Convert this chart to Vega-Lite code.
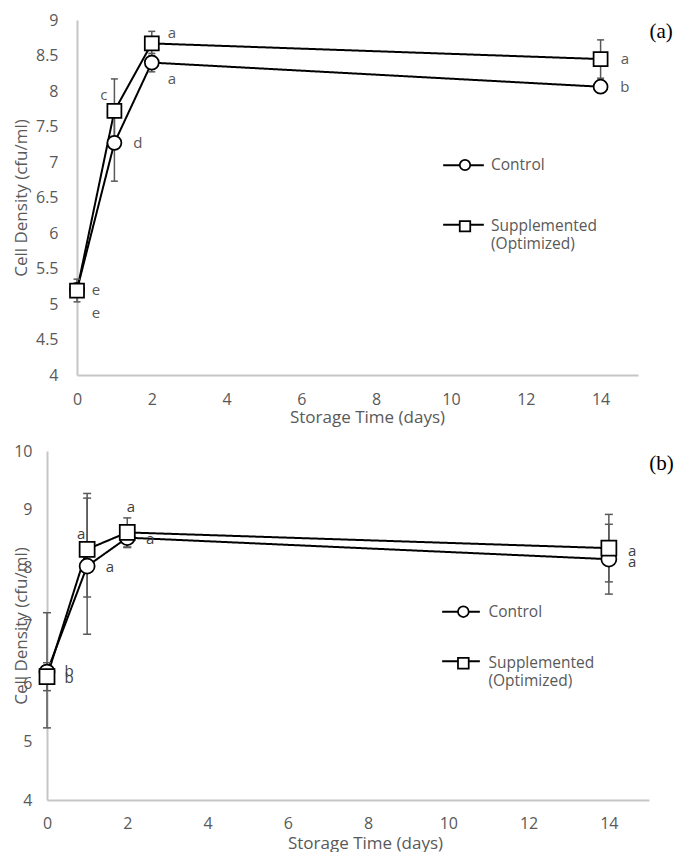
{
  "$schema": "https://vega.github.io/schema/vega-lite/v6.json",
  "padding": {"left": 12, "top": 12, "right": 0, "bottom": 0},
  "spacing": 18,
  "resolve": {"scale": {"shape": "independent", "strokeDash": "independent"}, "legend": {"shape": "independent", "strokeDash": "independent"}},
  "config": {
    "view": {"stroke": null},
    "font": "Open Sans",
    "axis": {
      "domainColor": "#c6c6c6",
      "domainWidth": 2,
      "ticks": false,
      "tickSize": 0,
      "grid": false,
      "labelColor": "#595959",
      "labelFont": "Open Sans",
      "labelFontSize": 16,
      "labelFlush": false,
      "labelOverlap": false,
      "titleColor": "#595959",
      "titleFont": "Open Sans",
      "titleFontSize": 17,
      "titleFontWeight": "normal"
    },
    "legend": {"labelFont": "Open Sans", "labelFontSize": 15.5, "labelColor": "#595959", "labelLimit": 300, "padding": 0, "orient": "none", "direction": "vertical"}
  },
  "datasets": {
    "a_pts": [
      {"series": "Control", "day": 0, "value": 5.2, "lo": 5.15, "hi": 5.25},
      {"series": "Control", "day": 1, "value": 7.27, "lo": 6.73, "hi": 7.81},
      {"series": "Control", "day": 2, "value": 8.4, "lo": 8.27, "hi": 8.53},
      {"series": "Control", "day": 14, "value": 8.06, "lo": 8.0, "hi": 8.12},
      {"series": "Supplemented (Optimized)", "day": 0, "value": 5.19, "lo": 5.03, "hi": 5.35},
      {"series": "Supplemented (Optimized)", "day": 1, "value": 7.72, "lo": 7.27, "hi": 8.17},
      {"series": "Supplemented (Optimized)", "day": 2, "value": 8.67, "lo": 8.5, "hi": 8.84},
      {"series": "Supplemented (Optimized)", "day": 14, "value": 8.45, "lo": 8.18, "hi": 8.72}
    ],
    "a_lbl": [
      {"day": 0.51, "value": 5.2, "letter": "e"},
      {"day": 0.51, "value": 4.87, "letter": "e"},
      {"day": 0.72, "value": 7.94, "letter": "c"},
      {"day": 1.63, "value": 7.27, "letter": "d"},
      {"day": 2.54, "value": 8.82, "letter": "a"},
      {"day": 2.54, "value": 8.17, "letter": "a"},
      {"day": 14.65, "value": 8.45, "letter": "a"},
      {"day": 14.65, "value": 8.06, "letter": "b"}
    ],
    "b_pts": [
      {"series": "Control", "day": 0, "value": 6.2, "lo": 5.24, "hi": 7.22},
      {"series": "Control", "day": 1, "value": 8.02, "lo": 6.85, "hi": 9.19},
      {"series": "Control", "day": 2, "value": 8.51, "lo": 8.34, "hi": 8.68},
      {"series": "Control", "day": 14, "value": 8.14, "lo": 7.54, "hi": 8.74},
      {"series": "Supplemented (Optimized)", "day": 0, "value": 6.12, "lo": 5.88, "hi": 6.36},
      {"series": "Supplemented (Optimized)", "day": 1, "value": 8.31, "lo": 7.49, "hi": 9.27},
      {"series": "Supplemented (Optimized)", "day": 2, "value": 8.6, "lo": 8.35, "hi": 8.85},
      {"series": "Supplemented (Optimized)", "day": 14, "value": 8.33, "lo": 7.75, "hi": 8.91}
    ],
    "b_lbl": [
      {"day": 0.55, "value": 6.22, "letter": "b"},
      {"day": 0.55, "value": 6.1, "letter": "b"},
      {"day": 0.85, "value": 8.58, "letter": "a"},
      {"day": 1.57, "value": 8.01, "letter": "a"},
      {"day": 2.09, "value": 9.04, "letter": "a"},
      {"day": 2.57, "value": 8.49, "letter": "a"},
      {"day": 14.58, "value": 8.28, "letter": "a"},
      {"day": 14.58, "value": 8.09, "letter": "a"}
    ]
  },
  "vconcat": [
    {
      "width": 591,
      "height": 355,
      "layer": [
        {"data": {"name": "a_pts"}, "mark": {"type": "line", "color": "black", "strokeWidth": 2},
          "encoding": {
            "x": {"field": "day", "type": "quantitative", "scale": {"domain": [0, 15], "nice": false, "range": [30, 591]},
              "axis": {"values": [0, 2, 4, 6, 8, 10, 12, 14], "title": "Storage Time (days)", "labelBaseline": "middle", "labelPadding": 24, "titleX": 320, "titleY": 42, "titleBaseline": "middle"}},
            "y": {"field": "value", "type": "quantitative", "scale": {"domain": [4, 9], "nice": false, "zero": false},
              "axis": {"values": [4, 4.5, 5, 5.5, 6, 6.5, 7, 7.5, 8, 8.5, 9], "format": "~r", "title": "Cell Density (cfu/ml)", "offset": -30, "labelPadding": 19, "titleX": -55.5, "titleY": 177.5, "titleBaseline": "middle"}},
            "strokeDash": {"field": "series", "type": "nominal", "scale": {"range": [[1, 0], [1, 0]]},
              "legend": {"legendX": 395, "legendY": 123.65, "title": null, "symbolSize": 1656, "symbolStrokeWidth": 2, "symbolStrokeColor": "black", "symbolOpacity": 1,
                "rowPadding": 29.65, "labelOffset": 3.3, "labelOpacity": 0,
                "labelExpr": "datum.label == 'Supplemented (Optimized)' ? ['Supplemented', '(Optimized)'] : datum.label"}}}},
        {"data": {"name": "a_pts"}, "mark": {"type": "rule", "color": "#595959", "strokeWidth": 1.5},
          "encoding": {
            "x": {"field": "day", "type": "quantitative", "scale": {"domain": [0, 15], "nice": false, "range": [30, 591]},
              "axis": {"values": [0, 2, 4, 6, 8, 10, 12, 14], "title": "Storage Time (days)", "labelBaseline": "middle", "labelPadding": 24, "titleX": 320, "titleY": 42, "titleBaseline": "middle"}},
            "y": {"field": "lo", "type": "quantitative", "scale": {"domain": [4, 9], "nice": false, "zero": false},
              "axis": {"values": [4, 4.5, 5, 5.5, 6, 6.5, 7, 7.5, 8, 8.5, 9], "format": "~r", "title": "Cell Density (cfu/ml)", "offset": -30, "labelPadding": 19, "titleX": -55.5, "titleY": 177.5, "titleBaseline": "middle"}},
            "y2": {"field": "hi"}}},
        {"data": {"name": "a_pts"}, "mark": {"type": "tick", "orient": "horizontal", "size": 7, "thickness": 1.5, "color": "#595959", "opacity": 1},
          "encoding": {
            "x": {"field": "day", "type": "quantitative", "scale": {"domain": [0, 15], "nice": false, "range": [30, 591]},
              "axis": {"values": [0, 2, 4, 6, 8, 10, 12, 14], "title": "Storage Time (days)", "labelBaseline": "middle", "labelPadding": 24, "titleX": 320, "titleY": 42, "titleBaseline": "middle"}},
            "y": {"field": "lo", "type": "quantitative", "scale": {"domain": [4, 9], "nice": false, "zero": false},
              "axis": {"values": [4, 4.5, 5, 5.5, 6, 6.5, 7, 7.5, 8, 8.5, 9], "format": "~r", "title": "Cell Density (cfu/ml)", "offset": -30, "labelPadding": 19, "titleX": -55.5, "titleY": 177.5, "titleBaseline": "middle"}}}},
        {"data": {"name": "a_pts"}, "mark": {"type": "tick", "orient": "horizontal", "size": 7, "thickness": 1.5, "color": "#595959", "opacity": 1},
          "encoding": {
            "x": {"field": "day", "type": "quantitative", "scale": {"domain": [0, 15], "nice": false, "range": [30, 591]},
              "axis": {"values": [0, 2, 4, 6, 8, 10, 12, 14], "title": "Storage Time (days)", "labelBaseline": "middle", "labelPadding": 24, "titleX": 320, "titleY": 42, "titleBaseline": "middle"}},
            "y": {"field": "hi", "type": "quantitative", "scale": {"domain": [4, 9], "nice": false, "zero": false},
              "axis": {"values": [4, 4.5, 5, 5.5, 6, 6.5, 7, 7.5, 8, 8.5, 9], "format": "~r", "title": "Cell Density (cfu/ml)", "offset": -30, "labelPadding": 19, "titleX": -55.5, "titleY": 177.5, "titleBaseline": "middle"}}}},
        {"data": {"name": "a_pts"}, "mark": {"type": "point", "filled": true, "fill": "white", "stroke": "black", "strokeWidth": 1.75, "size": 196, "opacity": 1},
          "encoding": {
            "x": {"field": "day", "type": "quantitative", "scale": {"domain": [0, 15], "nice": false, "range": [30, 591]},
              "axis": {"values": [0, 2, 4, 6, 8, 10, 12, 14], "title": "Storage Time (days)", "labelBaseline": "middle", "labelPadding": 24, "titleX": 320, "titleY": 42, "titleBaseline": "middle"}},
            "y": {"field": "value", "type": "quantitative", "scale": {"domain": [4, 9], "nice": false, "zero": false},
              "axis": {"values": [4, 4.5, 5, 5.5, 6, 6.5, 7, 7.5, 8, 8.5, 9], "format": "~r", "title": "Cell Density (cfu/ml)", "offset": -30, "labelPadding": 19, "titleX": -55.5, "titleY": 177.5, "titleBaseline": "middle"}},
            "shape": {"field": "series", "type": "nominal", "scale": {"domain": ["Control", "Supplemented (Optimized)"], "range": ["circle", "square"]},
              "legend": {"legendX": 410.25, "legendY": 137.25, "title": null, "symbolSize": 110, "symbolOpacity": 1, "symbolStrokeWidth": 1.75,
                "rowPadding": 43.25, "labelOffset": 18.25,
                "labelExpr": "datum.label == 'Supplemented (Optimized)' ? ['Supplemented', '(Optimized)'] : datum.label"}}}},
        {"data": {"name": "a_lbl"}, "mark": {"type": "text", "font": "Open Sans", "fontSize": 15, "color": "#595959", "align": "center", "baseline": "middle"},
          "encoding": {
            "x": {"field": "day", "type": "quantitative", "scale": {"domain": [0, 15], "nice": false, "range": [30, 591]},
              "axis": {"values": [0, 2, 4, 6, 8, 10, 12, 14], "title": "Storage Time (days)", "labelBaseline": "middle", "labelPadding": 24, "titleX": 320, "titleY": 42, "titleBaseline": "middle"}},
            "y": {"field": "value", "type": "quantitative", "scale": {"domain": [4, 9], "nice": false, "zero": false},
              "axis": {"values": [4, 4.5, 5, 5.5, 6, 6.5, 7, 7.5, 8, 8.5, 9], "format": "~r", "title": "Cell Density (cfu/ml)", "offset": -30, "labelPadding": 19, "titleX": -55.5, "titleY": 177.5, "titleBaseline": "middle"}},
            "text": {"field": "letter"}}},
        {"data": {"values": [{"panel": "(a)"}]}, "mark": {"type": "text", "font": "Liberation Serif", "fontSize": 21, "color": "black", "align": "center", "baseline": "middle"},
          "encoding": {
            "x": {"datum": 15.62, "type": "quantitative", "scale": {"domain": [0, 15], "nice": false, "range": [30, 591]},
              "axis": {"values": [0, 2, 4, 6, 8, 10, 12, 14], "title": "Storage Time (days)", "labelBaseline": "middle", "labelPadding": 24, "titleX": 320, "titleY": 42, "titleBaseline": "middle"}},
            "y": {"datum": 8.83, "type": "quantitative", "scale": {"domain": [4, 9], "nice": false, "zero": false},
              "axis": {"values": [4, 4.5, 5, 5.5, 6, 6.5, 7, 7.5, 8, 8.5, 9], "format": "~r", "title": "Cell Density (cfu/ml)", "offset": -30, "labelPadding": 19, "titleX": -55.5, "titleY": 177.5, "titleBaseline": "middle"}},
            "text": {"field": "panel"}}}
      ]
    },
    {
      "width": 602,
      "height": 349,
      "layer": [
        {"data": {"name": "b_pts"}, "mark": {"type": "line", "color": "black", "strokeWidth": 2},
          "encoding": {
            "x": {"field": "day", "type": "quantitative", "scale": {"domain": [0, 15], "nice": false},
              "axis": {"values": [0, 2, 4, 6, 8, 10, 12, 14], "title": "Storage Time (days)", "labelBaseline": "middle", "labelPadding": 23.5, "titleX": 318, "titleY": 43.5, "titleBaseline": "middle"}},
            "y": {"field": "value", "type": "quantitative", "scale": {"domain": [4, 10], "nice": false, "zero": false},
              "axis": {"values": [4, 5, 6, 7, 8, 9, 10], "format": "~r", "title": "Cell Density (cfu/ml)", "labelPadding": 15, "titleX": -25.5, "titleY": 174.5, "titleBaseline": "middle"}},
            "strokeDash": {"field": "series", "type": "nominal", "scale": {"range": [[1, 0], [1, 0]]},
              "legend": {"legendX": 394, "legendY": 140.85, "title": null, "symbolSize": 1421, "symbolStrokeWidth": 2, "symbolStrokeColor": "black", "symbolOpacity": 1,
                "rowPadding": 20.45, "labelOffset": 5, "labelOpacity": 0,
                "labelExpr": "datum.label == 'Supplemented (Optimized)' ? ['Supplemented', '(Optimized)'] : datum.label"}}}},
        {"data": {"name": "b_pts"}, "mark": {"type": "rule", "color": "#595959", "strokeWidth": 1.5},
          "encoding": {
            "x": {"field": "day", "type": "quantitative", "scale": {"domain": [0, 15], "nice": false},
              "axis": {"values": [0, 2, 4, 6, 8, 10, 12, 14], "title": "Storage Time (days)", "labelBaseline": "middle", "labelPadding": 23.5, "titleX": 318, "titleY": 43.5, "titleBaseline": "middle"}},
            "y": {"field": "lo", "type": "quantitative", "scale": {"domain": [4, 10], "nice": false, "zero": false},
              "axis": {"values": [4, 5, 6, 7, 8, 9, 10], "format": "~r", "title": "Cell Density (cfu/ml)", "labelPadding": 15, "titleX": -25.5, "titleY": 174.5, "titleBaseline": "middle"}},
            "y2": {"field": "hi"}}},
        {"data": {"name": "b_pts"}, "mark": {"type": "tick", "orient": "horizontal", "size": 8, "thickness": 1.5, "color": "#595959", "opacity": 1},
          "encoding": {
            "x": {"field": "day", "type": "quantitative", "scale": {"domain": [0, 15], "nice": false},
              "axis": {"values": [0, 2, 4, 6, 8, 10, 12, 14], "title": "Storage Time (days)", "labelBaseline": "middle", "labelPadding": 23.5, "titleX": 318, "titleY": 43.5, "titleBaseline": "middle"}},
            "y": {"field": "lo", "type": "quantitative", "scale": {"domain": [4, 10], "nice": false, "zero": false},
              "axis": {"values": [4, 5, 6, 7, 8, 9, 10], "format": "~r", "title": "Cell Density (cfu/ml)", "labelPadding": 15, "titleX": -25.5, "titleY": 174.5, "titleBaseline": "middle"}}}},
        {"data": {"name": "b_pts"}, "mark": {"type": "tick", "orient": "horizontal", "size": 8, "thickness": 1.5, "color": "#595959", "opacity": 1},
          "encoding": {
            "x": {"field": "day", "type": "quantitative", "scale": {"domain": [0, 15], "nice": false},
              "axis": {"values": [0, 2, 4, 6, 8, 10, 12, 14], "title": "Storage Time (days)", "labelBaseline": "middle", "labelPadding": 23.5, "titleX": 318, "titleY": 43.5, "titleBaseline": "middle"}},
            "y": {"field": "hi", "type": "quantitative", "scale": {"domain": [4, 10], "nice": false, "zero": false},
              "axis": {"values": [4, 5, 6, 7, 8, 9, 10], "format": "~r", "title": "Cell Density (cfu/ml)", "labelPadding": 15, "titleX": -25.5, "titleY": 174.5, "titleBaseline": "middle"}}}},
        {"data": {"name": "b_pts"}, "mark": {"type": "point", "filled": true, "fill": "white", "stroke": "black", "strokeWidth": 1.75, "size": 225, "opacity": 1},
          "encoding": {
            "x": {"field": "day", "type": "quantitative", "scale": {"domain": [0, 15], "nice": false},
              "axis": {"values": [0, 2, 4, 6, 8, 10, 12, 14], "title": "Storage Time (days)", "labelBaseline": "middle", "labelPadding": 23.5, "titleX": 318, "titleY": 43.5, "titleBaseline": "middle"}},
            "y": {"field": "value", "type": "quantitative", "scale": {"domain": [4, 10], "nice": false, "zero": false},
              "axis": {"values": [4, 5, 6, 7, 8, 9, 10], "format": "~r", "title": "Cell Density (cfu/ml)", "labelPadding": 15, "titleX": -25.5, "titleY": 174.5, "titleBaseline": "middle"}},
            "shape": {"field": "series", "type": "nominal", "scale": {"domain": ["Control", "Supplemented (Optimized)"], "range": ["circle", "square"]},
              "legend": {"legendX": 408.6, "legendY": 152.95, "title": null, "symbolSize": 115, "symbolOpacity": 1, "symbolStrokeWidth": 1.75,
                "rowPadding": 32.55, "labelOffset": 17.3,
                "labelExpr": "datum.label == 'Supplemented (Optimized)' ? ['Supplemented', '(Optimized)'] : datum.label"}}}},
        {"data": {"name": "b_lbl"}, "mark": {"type": "text", "font": "Open Sans", "fontSize": 15, "color": "#404040", "align": "center", "baseline": "middle"},
          "encoding": {
            "x": {"field": "day", "type": "quantitative", "scale": {"domain": [0, 15], "nice": false},
              "axis": {"values": [0, 2, 4, 6, 8, 10, 12, 14], "title": "Storage Time (days)", "labelBaseline": "middle", "labelPadding": 23.5, "titleX": 318, "titleY": 43.5, "titleBaseline": "middle"}},
            "y": {"field": "value", "type": "quantitative", "scale": {"domain": [4, 10], "nice": false, "zero": false},
              "axis": {"values": [4, 5, 6, 7, 8, 9, 10], "format": "~r", "title": "Cell Density (cfu/ml)", "labelPadding": 15, "titleX": -25.5, "titleY": 174.5, "titleBaseline": "middle"}},
            "text": {"field": "letter"}}},
        {"data": {"values": [{"panel": "(b)"}]}, "mark": {"type": "text", "font": "Liberation Serif", "fontSize": 21, "color": "black", "align": "center", "baseline": "middle"},
          "encoding": {
            "x": {"datum": 15.31, "type": "quantitative", "scale": {"domain": [0, 15], "nice": false},
              "axis": {"values": [0, 2, 4, 6, 8, 10, 12, 14], "title": "Storage Time (days)", "labelBaseline": "middle", "labelPadding": 23.5, "titleX": 318, "titleY": 43.5, "titleBaseline": "middle"}},
            "y": {"datum": 9.78, "type": "quantitative", "scale": {"domain": [4, 10], "nice": false, "zero": false},
              "axis": {"values": [4, 5, 6, 7, 8, 9, 10], "format": "~r", "title": "Cell Density (cfu/ml)", "labelPadding": 15, "titleX": -25.5, "titleY": 174.5, "titleBaseline": "middle"}},
            "text": {"field": "panel"}}}
      ]
    }
  ]
}
